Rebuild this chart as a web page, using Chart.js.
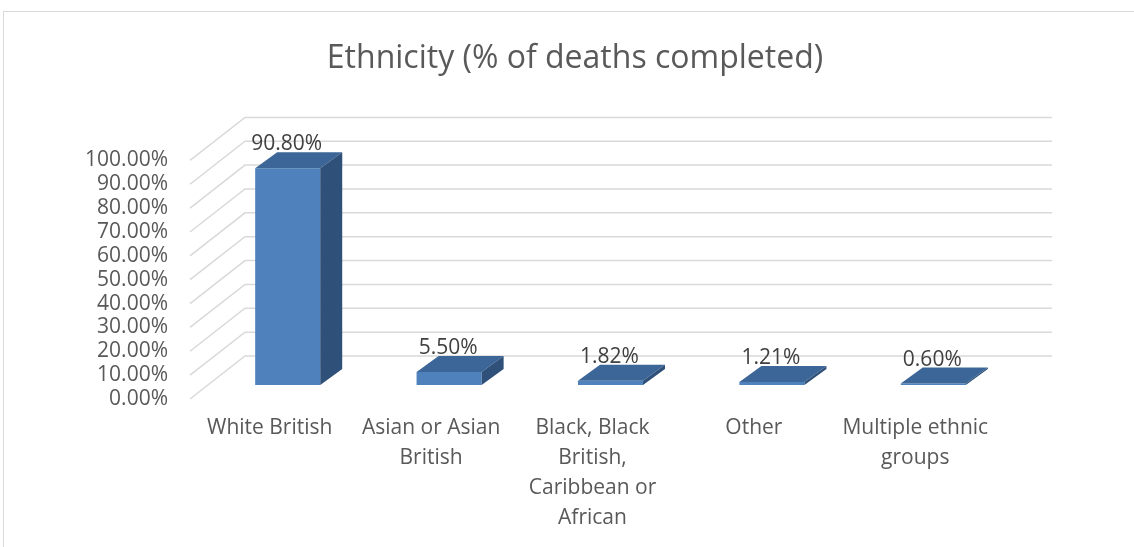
<!DOCTYPE html>
<html>
<head>
<meta charset="utf-8">
<script src="https://cdn.jsdelivr.net/npm/chart.js@4/dist/chart.umd.min.js"></script>
<style>
    html, body { margin: 0; padding: 0; background: #ffffff; overflow: hidden; }
    #frame {
        position: absolute;
        left: 3px;
        top: 11px;
        width: 1200px;
        height: 600px;
        border-top: 1px solid #d9d9d9;
        border-left: 1px solid #d9d9d9;
    }
    #chart { position: absolute; left: 0; top: 0; }
</style>
</head>
<body>
<div id="frame"></div>
<canvas id="chart" width="1134" height="547"></canvas>
<script>
const categories = [
    'White British',
    ['Asian or Asian', 'British'],
    ['Black, Black', 'British,', 'Caribbean or', 'African'],
    'Other',
    ['Multiple ethnic', 'groups']
];
const deathShares = [0.908, 0.055, 0.0182, 0.0121, 0.006];
const dataLabels = ['90.80%', '5.50%', '1.82%', '1.21%', '0.60%'];

const fontFamily = '"Open Sans", "Noto Sans", sans-serif';
const textColor = '#595959';

// oblique depth offsets, measured from the bars' front plane
const depth = { barDx: 22, barDy: -16, wallDx: 38, wallDy: -29, frontDx: -17, frontDy: 14 };
const palette = { front: '#4f81bd', top: '#3d6698', side: '#2f5078', grid: '#d9d9d9' };

const threeDPlugin = {
    id: 'threeD',
    beforeDatasetsDraw: function (chart) {
        const ctx = chart.ctx;
        const yScale = chart.scales.y;
        const area = chart.chartArea;
        ctx.save();
        ctx.strokeStyle = palette.grid;
        ctx.lineWidth = 1.5;
        yScale.ticks.forEach(function (tick) {
            const y = yScale.getPixelForValue(tick.value);
            const backY = y + depth.wallDy;
            ctx.beginPath();
            ctx.moveTo(area.left + depth.frontDx, y + depth.frontDy);
            ctx.lineTo(area.left + depth.wallDx, backY);
            ctx.lineTo(area.right + depth.wallDx, backY);
            ctx.stroke();
        });
        ctx.restore();
    },
    afterDatasetsDraw: function (chart) {
        const ctx = chart.ctx;
        const meta = chart.getDatasetMeta(0);
        ctx.save();
        meta.data.forEach(function (bar, index) {
            const half = bar.width / 2;
            const x0 = bar.x - half;
            const x1 = bar.x + half;
            const top = bar.y;
            const base = bar.base;

            // top face
            ctx.fillStyle = palette.top;
            ctx.beginPath();
            ctx.moveTo(x0, top);
            ctx.lineTo(x1, top);
            ctx.lineTo(x1 + depth.barDx, top + depth.barDy);
            ctx.lineTo(x0 + depth.barDx, top + depth.barDy);
            ctx.closePath();
            ctx.fill();

            // side face
            ctx.fillStyle = palette.side;
            ctx.beginPath();
            ctx.moveTo(x1, top);
            ctx.lineTo(x1 + depth.barDx, top + depth.barDy);
            ctx.lineTo(x1 + depth.barDx, base + depth.barDy);
            ctx.lineTo(x1, base);
            ctx.closePath();
            ctx.fill();

            // value label
            ctx.fillStyle = '#404040';
            ctx.font = '21px ' + fontFamily;
            ctx.textAlign = 'center';
            ctx.textBaseline = 'middle';
            ctx.fillText(dataLabels[index], bar.x - 1, top - 24);
        });
        ctx.restore();
    }
};

new Chart(document.getElementById('chart').getContext('2d'), {
    type: 'bar',
    data: {
        labels: categories,
        datasets: [
            {
                data: deathShares,
                backgroundColor: palette.front,
                borderWidth: 0,
                categoryPercentage: 1,
                barPercentage: 0.403
            }
        ]
    },
    options: {
        responsive: false,
        animation: false,
        layout: {
            padding: { left: 16, right: 0, top: 0, bottom: 0 }
        },
        plugins: {
            legend: { display: false },
            tooltip: { enabled: false },
            title: {
                display: true,
                text: 'Ethnicity (% of deaths completed)',
                color: textColor,
                font: { family: fontFamily, size: 32, weight: 'normal', lineHeight: 1.2 },
                padding: { top: 40, bottom: 68 }
            }
        },
        scales: {
            x: {
                offset: true,
                grid: { display: false, drawTicks: false },
                border: { display: false },
                ticks: {
                    color: textColor,
                    font: { family: fontFamily, size: 21, lineHeight: 1.43 },
                    padding: 28,
                    labelOffset: -18,
                    maxRotation: 0,
                    autoSkip: false
                },
                afterFit: function (scale) {
                    scale.height = 162;
                }
            },
            y: {
                min: 0,
                max: 1,
                grid: { display: false, drawTicks: false },
                border: { display: false },
                ticks: {
                    stepSize: 0.1,
                    autoSkip: false,
                    color: textColor,
                    font: { family: fontFamily, size: 21 },
                    padding: 39,
                    labelOffset: 14,
                    callback: function (value) {
                        return (value * 100).toFixed(2) + '%';
                    }
                },
                afterFit: function (scale) {
                    scale.width = 191;
                }
            },
            // empty right-hand spacer so the plot ends where the reference does
            spacer: {
                type: 'linear',
                position: 'right',
                grid: { display: false, drawTicks: false },
                border: { display: false },
                ticks: { display: false },
                afterFit: function (scale) {
                    scale.width = 120;
                }
            }
        }
    },
    plugins: [threeDPlugin]
});
</script>
</body>
</html>
